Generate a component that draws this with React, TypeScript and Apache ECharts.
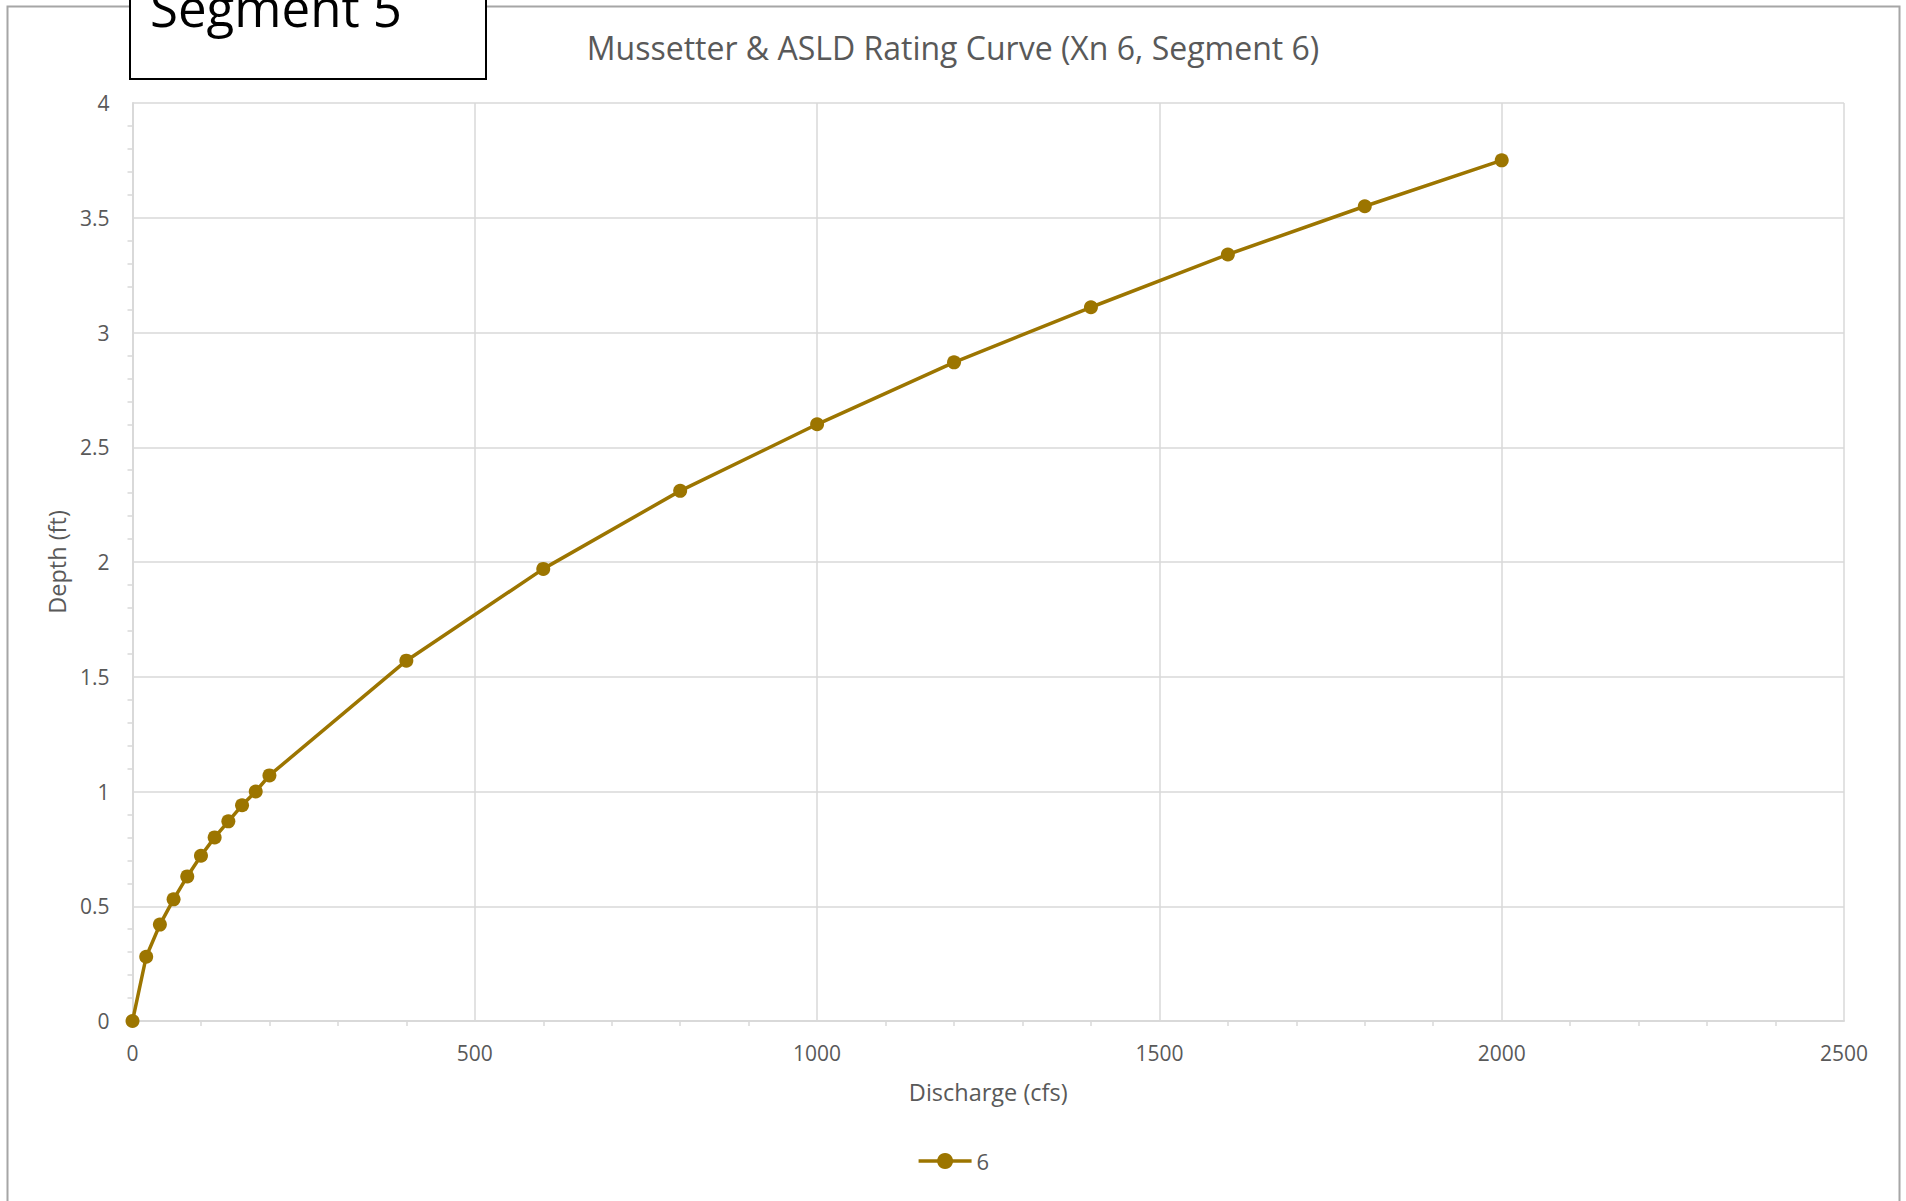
import React, { useEffect, useRef } from "react";
import * as echarts from "echarts";

const discharge = [0, 20, 40, 60, 80, 100, 120, 140, 160, 180, 200, 400, 600, 800, 1000, 1200, 1400, 1600, 1800, 2000];
const depth = [0, 0.28, 0.42, 0.53, 0.63, 0.72, 0.8, 0.87, 0.94, 1.0, 1.07, 1.57, 1.97, 2.31, 2.6, 2.87, 3.11, 3.34, 3.55, 3.75];
const seriesName = "6";
const chartTitle = "Mussetter & ASLD Rating Curve (Xn 6, Segment 6)";
const xTitle = "Discharge (cfs)";
const yTitle = "Depth (ft)";
const boxLabel = "Segment 5";

const FONT = "'Open Sans', 'Noto Sans', sans-serif";
const TXT = "#595959";
const GRID = "#d9d9d9";
const LINE = "#9c7500";

export default function App() {
  const ref = useRef<HTMLDivElement>(null);
  useEffect(() => {
    document.body.style.margin = "0";
    const chart = echarts.init(ref.current!, null, { renderer: "svg" });
    const data = discharge.map((x, i) => [x, depth[i]]);
    chart.setOption({
      animation: false,
      backgroundColor: "#fff",
      textStyle: { fontFamily: FONT },
      title: {
        text: chartTitle,
        left: "center",
        top: 26,
        textStyle: { fontFamily: FONT, fontSize: 32, fontWeight: "normal", color: TXT },
      },
      grid: { left: 132.5, right: 62, top: 103, bottom: 180, containLabel: false },
      legend: {
        show: true,
        data: [seriesName],
        left: "center",
        top: 1145,
        itemWidth: 53,
        itemHeight: 20,
        itemGap: 8,
        lineStyle: { width: 3.5 },
        textStyle: { fontFamily: FONT, fontSize: 22, color: TXT },
      },
      xAxis: {
        type: "value",
        min: 0,
        max: 2500,
        interval: 500,
        name: xTitle,
        nameLocation: "middle",
        nameGap: 59,
        nameTextStyle: { fontFamily: FONT, fontSize: 23.5, color: TXT },
        axisLine: { show: true, lineStyle: { color: GRID, width: 2 } },
        axisTick: { show: false },
        minorTick: { show: true, splitNumber: 5, length: 5, lineStyle: { color: GRID, width: 1.5 } },
        axisLabel: { fontFamily: FONT, fontSize: 21, color: TXT, margin: 21, formatter: (v: number) => String(v) },
        splitLine: { show: true, lineStyle: { color: GRID, width: 1.5 } },
      },
      yAxis: {
        type: "value",
        min: 0,
        max: 4,
        interval: 0.5,
        name: yTitle,
        nameLocation: "middle",
        nameRotate: 90,
        nameGap: 64,
        nameTextStyle: { fontFamily: FONT, fontSize: 23.5, color: TXT },
        axisLine: { show: true, lineStyle: { color: GRID, width: 2 } },
        axisTick: { show: false },
        minorTick: { show: true, splitNumber: 5, length: 5, lineStyle: { color: GRID, width: 1.5 } },
        axisLabel: { fontFamily: FONT, fontSize: 21, color: TXT, margin: 23, formatter: (v: number) => String(v) },
        splitLine: { show: true, lineStyle: { color: GRID, width: 1.5 } },
      },
      series: [
        {
          name: seriesName,
          type: "line",
          data,
          symbol: "circle",
          symbolSize: 14,
          lineStyle: { color: LINE, width: 3.5 },
          itemStyle: { color: LINE },
          z: 5,
        },
      ],
      graphic: [
        {
          type: "rect",
          left: 5,
          top: 4,
          shape: { x: 0, y: 0, width: 1892, height: 1250 },
          style: { fill: "none", stroke: "#a6a6a6", lineWidth: 2 },
          silent: true,
          z: -1,
        },
        {
          type: "rect",
          shape: { x: 130, y: -20, width: 356, height: 99 },
          style: { fill: "#fff", stroke: "#000", lineWidth: 2 },
          z: 10,
        },
        {
          type: "text",
          x: 150,
          y: 7,
          style: {
            text: boxLabel,
            font: `51px ${FONT}`,
            fill: "#000",
            verticalAlign: "middle",
            align: "left",
          },
          z: 11,
        },
      ],
    });
    return () => chart.dispose();
  }, []);
  return <div ref={ref} style={{ width: 1906, height: 1201 }} />;
}
